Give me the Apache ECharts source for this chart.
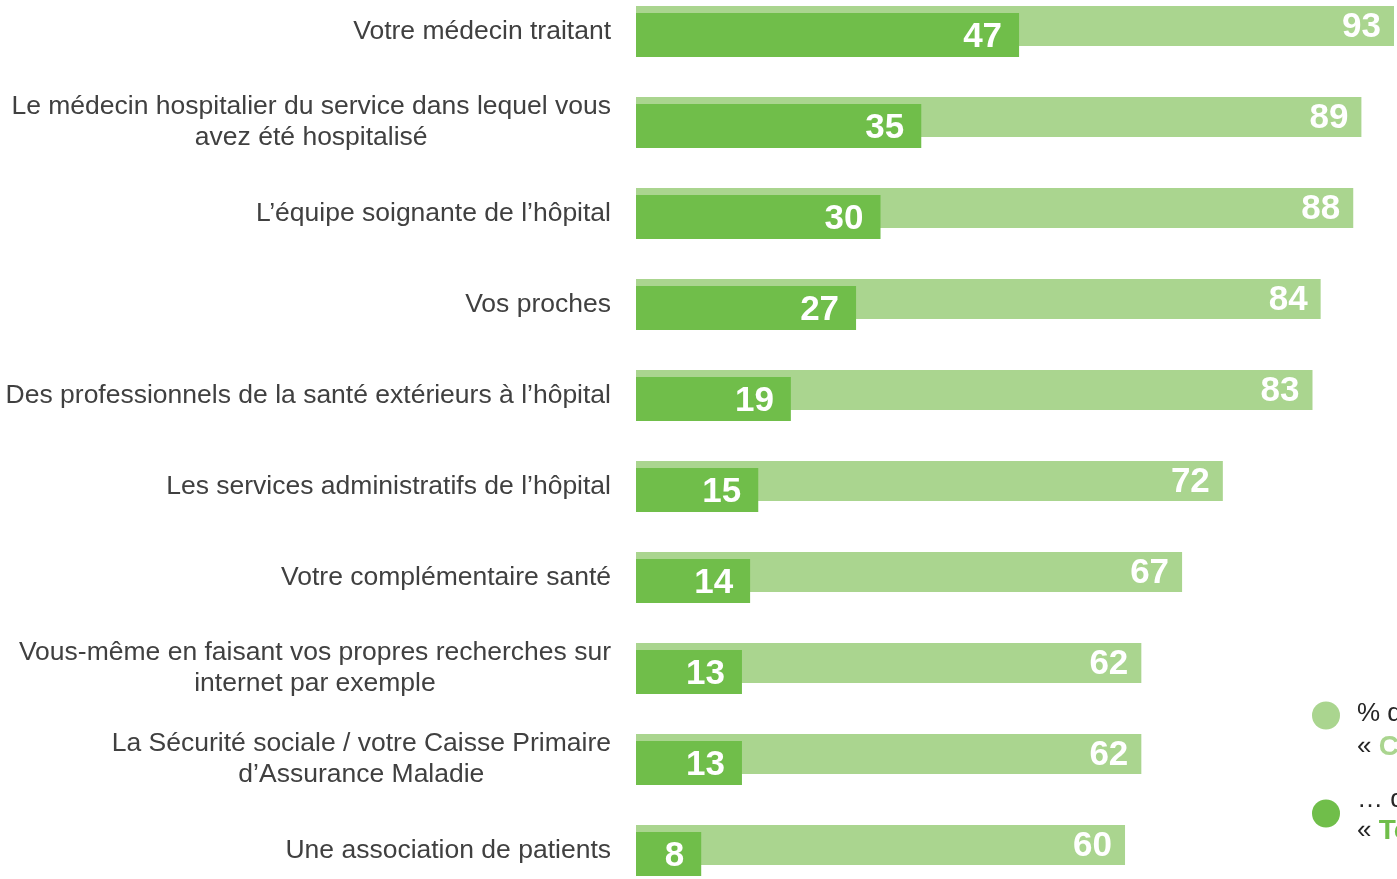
<!DOCTYPE html>
<html>
<head>
<meta charset="utf-8">
<script src="https://cdn.jsdelivr.net/npm/echarts@6/dist/echarts.min.js"></script>
<style>
  html, body { margin: 0; padding: 0; background: #fff; }
  #main { width: 1397px; height: 879px; }
</style>
</head>
<body>
<div id="main"></div>
<script>
const categories = [
  'Votre médecin traitant',
  'Le médecin hospitalier du service dans lequel vous\navez été hospitalisé',
  'L’équipe soignante de l’hôpital',
  'Vos proches',
  'Des professionnels de la santé extérieurs à l’hôpital',
  'Les services administratifs de l’hôpital',
  'Votre complémentaire santé',
  'Vous-même en faisant vos propres recherches sur\ninternet par exemple',
  'La Sécurité sociale / votre Caisse Primaire\nd’Assurance Maladie',
  'Une association de patients'
];
const confiance = [93, 89, 88, 84, 83, 72, 67, 62, 62, 60];
const toutAFait = [47, 35, 30, 27, 19, 15, 14, 13, 13, 8];

const LIGHT = '#aad58f';
const DARK = '#70be4a';
const FONT = '"Liberation Sans", Arial, sans-serif';

let chart = echarts.init(document.getElementById('main'));

// category centres sit on the grid edges (boundaryGap false), bars drawn unclipped
let option = {
  animation: false,
  textStyle: { fontFamily: FONT },
  grid: { left: 636, right: 3, top: 31.5, height: 819, containLabel: false },
  xAxis: {
    type: 'value',
    min: 0,
    max: 93,
    show: false,
  },
  yAxis: {
    type: 'category',
    inverse: true,
    boundaryGap: false,
    data: categories,
    axisLine: { show: false },
    axisTick: { show: false },
    splitLine: { show: false },
    axisLabel: {
      margin: 25,
      formatter: v => v.split('\n').map(l => '{c|' + l + '}').join('\n'),
      rich: {
        c: { fontSize: 26.5, color: '#404040', align: 'center', lineHeight: 31, fontFamily: FONT },
      },
    },
  },
  legend: [
    {
      left: 1312,
      top: 701,
      padding: 0,
      orient: 'vertical',
      icon: 'circle',
      itemWidth: 28,
      itemHeight: 28,
      selectedMode: false,
      data: ['confiance'],
      formatter: () => '{t|% de confiance}\n{q|« }{g|Confiance}{q| »}',
      textStyle: {
        padding: [30, 0, 0, 12],
        rich: {
          t: { fontSize: 26, color: '#262626', lineHeight: 33, fontFamily: FONT },
          q: { fontSize: 26, color: '#262626', lineHeight: 33, fontFamily: FONT },
          g: { fontSize: 28, color: LIGHT, fontWeight: 'bold', lineHeight: 33, fontFamily: FONT },
        },
      },
    },
    {
      left: 1312,
      top: 787,
      padding: 0,
      orient: 'vertical',
      icon: 'circle',
      itemWidth: 28,
      itemHeight: 28,
      selectedMode: false,
      data: ['tout à fait'],
      formatter: () => '{t|… dont}\n{q|« }{g|Tout à fait confiance}{q| »}',
      textStyle: {
        padding: [4, 0, 0, 12],
        rich: {
          t: { fontSize: 26, color: '#262626', lineHeight: 31, fontFamily: FONT },
          q: { fontSize: 26, color: '#262626', lineHeight: 31, fontFamily: FONT },
          g: { fontSize: 28, color: DARK, fontWeight: 'bold', lineHeight: 31, fontFamily: FONT },
        },
      },
    },
  ],
  series: [
    {
      name: 'confiance',
      type: 'bar',
      data: confiance,
      barWidth: 40,
      barGap: '-82.5%',
      clip: false,
      itemStyle: { color: LIGHT },
      label: {
        show: true,
        position: 'insideRight',
        distance: 13,
        offset: [0, 1.5],
        color: '#fff',
        fontWeight: 'bold',
        fontSize: 35,
        fontFamily: FONT,
      },
    },
    {
      name: 'tout à fait',
      type: 'bar',
      data: toutAFait,
      barWidth: 44,
      barGap: '-82.5%',
      clip: false,
      itemStyle: { color: DARK },
      label: {
        show: true,
        position: 'insideRight',
        distance: 17,
        offset: [0, 2],
        color: '#fff',
        fontWeight: 'bold',
        fontSize: 35,
        fontFamily: FONT,
      },
    },
  ],
};

chart.setOption(option);
</script>
</body>
</html>
